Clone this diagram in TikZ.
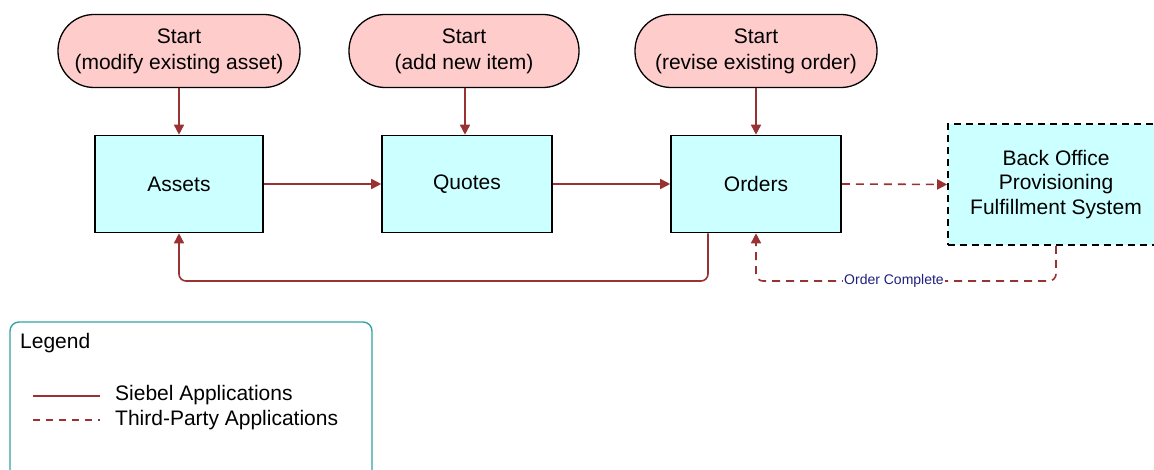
\documentclass[tikz,border=0pt]{standalone}
\usepackage{fontspec}
\setmainfont{Liberation Sans}
\usetikzlibrary{arrows.meta,calc}
\definecolor{arrc}{HTML}{993333}
\definecolor{pillc}{HTML}{FFCCCC}
\definecolor{boxc}{HTML}{CCFFFF}
\definecolor{legc}{HTML}{33A3A3}
\definecolor{lblc}{HTML}{202080}
\tikzset{
  pill/.style={draw=black,line width=1.3pt,fill=pillc,rounded corners=36pt,minimum height=73pt,align=center,font=\fontsize{21}{26}\selectfont,inner sep=0pt},
  proc/.style={draw=black,line width=1.6pt,fill=boxc,minimum width=170pt,minimum height=97pt,align=center,font=\fontsize{21}{25}\selectfont},
  ext/.style={draw=black,line width=1.6pt,fill=boxc,dash pattern=on 7pt off 5pt,minimum width=216pt,minimum height=121pt,align=center,font=\fontsize{21}{24.5}\selectfont},
  arr/.style={draw=arrc,line width=1.6pt,-{Triangle[length=10pt,width=10pt]}},
  tparr/.style={arr,dash pattern=on 8pt off 6pt},
  legline/.style={draw=arrc,line width=1.4pt},
  legtext/.style={anchor=west,font=\fontsize{21}{24}\selectfont,inner sep=0pt}
}
\begin{document}
\begin{tikzpicture}[x=1pt,y=-1pt]
\useasboundingbox (0,0) rectangle (1154,470);
\clip (0,0) rectangle (1154,470);
% start nodes
\node[pill,minimum width=242pt] (s1) at (179,51) {Start\\(modify existing asset)};
\node[pill,minimum width=230pt] (s2) at (464,51) {Start\\(add new item)};
\node[pill,minimum width=242pt] (s3) at (756,51) {Start\\(revise existing order)};
% process nodes
\node[proc,minimum width=168pt] (assets) at (179,184) {Assets};
\node[proc] (quotes) at (467,184) {Quotes};
\node[proc] (orders) at (756,184) {Orders};
\node[ext] (bo) at (1056,184.5) {Back Office\\Provisioning\\Fulfillment System};
% connectors
\draw[arr] (s1.south) -- (assets.north);
\draw[arr] ([xshift=-2pt]quotes.north |- s2.south) -- ([xshift=-2pt]quotes.north);
\draw[arr] (s3.south) -- (orders.north);
\draw[arr] (assets.east) -- (quotes.west);
\draw[arr] (quotes.east) -- (orders.west);
\draw[tparr] (orders.east) -- (bo.west);
\coordinate (fbl) at (179,281);
\draw[arr,rounded corners=7pt] ([xshift=-48pt]orders.south) |- (fbl) -- (assets.south);
\coordinate (ocl) at (756,281);
\draw[tparr,rounded corners=7pt] (bo.south) |- (ocl) -- (orders.south);
\node[fill=white,inner sep=1pt,text=lblc,font=\fontsize{14}{16}\selectfont] (oclbl) at (894,281) {Order Complete};
% legend
\draw[legc,line width=1.4pt,rounded corners=9pt] (10,322) rectangle (372,480);
\node[legtext] (legt) at (20,343) {Legend};
\coordinate (l1a) at (33,396);
\coordinate (l1b) at (100,396);
\coordinate (l2a) at (33,420);
\coordinate (l2b) at (100,420);
\draw[legline] (l1a) -- (l1b);
\draw[legline,dash pattern=on 7pt off 6pt] (l2a) -- (l2b);
\node[legtext] (lt1) at (115,395) {Siebel Applications};
\node[legtext] (lt2) at (115,420) {Third-Party Applications};
\end{tikzpicture}
\end{document}
